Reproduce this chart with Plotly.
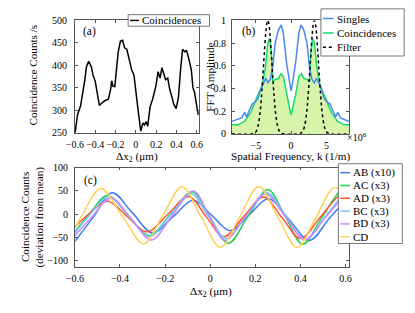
import plotly.graph_objects as go

W, H = 415, 313
FONT = "Liberation Serif"


def X(px):
    return px / W


def Y(py):
    return 1 - py / H


# ---------------- Panel (a): coincidences vs delta x2 ----------------
a_dx = [-0.597, -0.574, -0.543, -0.517, -0.502, -0.486, -0.464, -0.438, -0.422, -0.400,
        -0.384, -0.359, -0.327, -0.302, -0.270, -0.248, -0.238, -0.226, -0.207, -0.190,
        -0.174, -0.152, -0.130, -0.111, -0.089, -0.067, -0.041, -0.019, -0.003, 0.022,
        0.048, 0.070, 0.086, 0.102, 0.117, 0.140, 0.165, 0.197, 0.219, 0.238,
        0.257, 0.276, 0.292, 0.314, 0.333, 0.355, 0.371, 0.397, 0.419, 0.441,
        0.460, 0.483, 0.498, 0.521, 0.546, 0.562, 0.578, 0.603, 0.615]
a_counts = [251, 290, 311, 343, 368, 397, 409, 397, 379, 365,
            347, 311, 318, 322, 325, 347, 366, 354, 353, 386,
            429, 454, 456, 439, 436, 415, 390, 379, 343, 301,
            254, 272, 268, 275, 265, 308, 325, 354, 386, 372,
            395, 379, 368, 372, 347, 330, 315, 304, 329, 393,
            436, 430, 434, 415, 390, 350, 340, 304, 290]

# ---------------- Panel (b): FFT amplitude (k in units of 1e6 1/m) ----------------
b_k_singles = [-8.4, -7.6, -7.0, -6.6, -6.3, -5.9, -5.5, -5.1, -4.7, -4.3, -3.9, -3.6, -3.3,
               -2.95, -2.6, -2.25, -1.8, -1.4, -1.1, -0.65, -0.2, 0.0, 0.2, 0.65, 1.1, 1.4,
               1.8, 2.25, 2.6, 2.95, 3.3, 3.6, 3.9, 4.3, 4.7, 5.1, 5.5, 5.9, 6.3, 6.6, 7.0,
               7.6, 8.2]
b_amp_singles = [0.11, 0.125, 0.14, 0.19, 0.15, 0.21, 0.265, 0.28, 0.31, 0.39, 0.45, 0.49, 0.45,
                 0.48, 0.59, 0.80, 0.915, 0.96, 0.89, 0.63, 0.45, 0.38, 0.45, 0.63, 0.89, 0.96,
                 0.915, 0.80, 0.59, 0.48, 0.45, 0.49, 0.45, 0.39, 0.31, 0.28, 0.265, 0.21, 0.15,
                 0.19, 0.14, 0.125, 0.11]
b_k_coinc = [-8.4, -7.5, -6.6, -6.1, -5.7, -5.0, -4.55, -4.1, -3.65, -3.3, -3.05, -2.8, -2.6,
             -2.25, -1.8, -1.45, -1.1, -0.65, -0.2, 0.0, 0.2, 0.65, 1.1, 1.45, 1.8, 2.25, 2.6,
             2.8, 3.05, 3.3, 3.65, 4.1, 4.55, 5.0, 5.7, 6.1, 6.6, 7.5, 8.2]
b_amp_coinc = [0.08, 0.08, 0.11, 0.15, 0.19, 0.30, 0.36, 0.43, 0.58, 0.80, 0.84, 0.72, 0.46,
               0.48, 0.49, 0.53, 0.505, 0.35, 0.22, 0.165, 0.22, 0.35, 0.505, 0.53, 0.49, 0.48,
               0.46, 0.72, 0.84, 0.80, 0.58, 0.43, 0.36, 0.30, 0.19, 0.15, 0.11, 0.08, 0.08]
b_k_filter = [-8.4, -5.6, -5.0, -4.7, -4.4, -4.2, -4.0, -3.8, -3.6, -3.45, -3.3, -3.15, -3.0,
              -2.8, -2.6, -2.4, -2.2, -1.9, -1.6, -1.3, 1.3, 1.6, 1.9, 2.2, 2.4, 2.6, 2.8,
              3.0, 3.15, 3.3, 3.45, 3.6, 3.8, 4.0, 4.2, 4.4, 4.7, 5.0, 5.6, 8.2]
b_amp_filter = [0, 0, 0.018, 0.066, 0.186, 0.325, 0.506, 0.707, 0.883, 0.969, 1.0, 0.969, 0.883,
                0.707, 0.506, 0.325, 0.186, 0.066, 0.018, 0.004, 0.004, 0.018, 0.066, 0.186,
                0.325, 0.506, 0.707, 0.883, 0.969, 1.0, 0.969, 0.883, 0.707, 0.506, 0.325,
                0.186, 0.066, 0.018, 0, 0]

# ---------------- Panel (c): coincidence deviation from mean ----------------
c_names = ["AB (x10)", "AC (x3)", "AD (x3)", "BC (x3)", "BD (x3)", "CD"]
c_x_AB = [-0.6, -0.518, -0.435, -0.345, -0.255, -0.165, -0.075, 0.006, 0.088, 0.173, 0.258,
          0.349, 0.44, 0.527, 0.615]
c_y_AB = [-58, -6, 46, 3, -40, -5, 30, -2, -35, -1, 33, -11, -56, -9, 38]
c_x_AC = [-0.6, -0.535, -0.455, -0.362, -0.27, -0.175, -0.08, 0.0, 0.08, 0.168, 0.255, 0.333,
          0.41, 0.497, 0.585, 0.615]
c_y_AC = [-38, 1, 40, -3, -46, 1, 48, -7, -62, -4, 53, -5, -64, -5, 53, 50]
c_x_AD = [-0.6, -0.54, -0.455, -0.367, -0.28, -0.188, -0.095, -0.018, 0.06, 0.148, 0.236,
          0.318, 0.40, 0.488, 0.575, 0.615]
c_y_AD = [-27, 0, 28, -5, -38, 0, 38, -5, -48, -5, 37, -7, -52, -6, 40, 37]
c_x_BC = [-0.6, -0.535, -0.45, -0.36, -0.27, -0.178, -0.085, -0.008, 0.07, 0.16, 0.25, 0.335,
          0.42, 0.508, 0.595, 0.615]
c_y_BC = [-40, -2, 38, -5, -48, -2, 44, -4, -52, -3, 46, -4, -55, -6, 42, 41]
c_x_BD = [-0.6, -0.525, -0.44, -0.35, -0.26, -0.168, -0.075, -0.005, 0.065, 0.155, 0.245,
          0.333, 0.42, 0.51, 0.6, 0.615]
c_y_BD = [-46, -6, 35, -10, -55, -2, 50, -3, -56, -6, 44, -5, -54, -7, 40, 40]
c_x_CD = [-0.6, -0.57, -0.485, -0.39, -0.295, -0.21, -0.125, -0.04, 0.045, 0.13, 0.215, 0.30,
          0.385, 0.468, 0.55, 0.615]
c_y_CD = [-30, -4, 55, -4, -63, -2, 59, -6, -71, -6, 59, -6, -71, -7, 57, 40]
c_xs = [c_x_AB, c_x_AC, c_x_AD, c_x_BC, c_x_BD, c_x_CD]
c_ys = [c_y_AB, c_y_AC, c_y_AD, c_y_BC, c_y_BD, c_y_CD]
c_colors = ["#3d7cf2", "#1fcf50", "#ff5530", "#74c7ff", "#c98aff", "#ffd257"]

x_ticks = [-0.6, -0.4, -0.2, 0, 0.2, 0.4, 0.6]

COL_S = "#4b87f2"
COL_C = "#1ad96b"
FILL_C = "#d6f5aa"

fig = go.Figure()

# (a)
fig.add_trace(go.Scatter(x=a_dx, y=a_counts, mode="lines", name="Coincidences",
                         line=dict(color="black", width=1.5), xaxis="x", yaxis="y",
                         showlegend=False))
# (b)
fig.add_trace(go.Scatter(x=b_k_coinc, y=b_amp_coinc, mode="lines", name="Coincidences",
                         line=dict(color=COL_C, width=1.5), fill="tozeroy", fillcolor=FILL_C,
                         xaxis="x2", yaxis="y2", showlegend=False))
fig.add_trace(go.Scatter(x=b_k_singles, y=b_amp_singles, mode="lines", name="Singles",
                         line=dict(color=COL_S, width=1.5), xaxis="x2", yaxis="y2",
                         showlegend=False))
fig.add_trace(go.Scatter(x=b_k_filter, y=b_amp_filter, mode="lines", name="Filter",
                         line=dict(color="black", width=1.5, dash="dot", shape="spline"),
                         xaxis="x2", yaxis="y2", showlegend=False))
# (c)
for nm, xs, ys, col in zip(c_names, c_xs, c_ys, c_colors):
    fig.add_trace(go.Scatter(x=xs, y=ys, mode="lines", name=nm,
                             line=dict(color=col, width=1.5, shape="spline", smoothing=1.0),
                             xaxis="x3", yaxis="y3", showlegend=False))

AXC = "#555555"
TICKF = dict(family=FONT, size=10, color="black")


def axis(domain, rng, tickvals, anchor, standoff=3):
    return dict(domain=domain, range=rng, tickvals=tickvals, ticks="inside", ticklen=3,
                tickwidth=0.8, tickcolor=AXC, showline=True, linecolor=AXC, linewidth=0.8,
                mirror="ticks", showgrid=False, zeroline=False, tickfont=TICKF, anchor=anchor,
                ticklabelstandoff=standoff, fixedrange=True)


fig.update_layout(
    width=W, height=H, margin=dict(l=0, r=0, t=0, b=0),
    paper_bgcolor="white", plot_bgcolor="white",
    font=dict(family=FONT, color="black"),
    showlegend=False,
    xaxis=axis([X(68), X(196)], [-0.6, 0.62], x_ticks, "y", standoff=2),
    yaxis=axis([Y(132), Y(15)], [250, 500], [250, 300, 350, 400, 450, 500], "x", standoff=5),
    xaxis2=axis([X(230), X(351)], [-8.4, 8.2], [-5, 0, 5], "y2", standoff=2),
    yaxis2=axis([Y(133), Y(15)], [0, 1], [0, 0.2, 0.4, 0.6, 0.8, 1], "x2", standoff=3),
    xaxis3=axis([X(68), X(351)], [-0.6, 0.615], x_ticks, "y3", standoff=2),
    yaxis3=axis([Y(271), Y(168)], [-112, 100], [-100, -50, 0, 50, 100], "x3", standoff=4),
)

ann = []
shapes = []


def text(px, py, s, size=11.2, angle=0, xanchor="center"):
    ann.append(dict(x=X(px), y=Y(py), xref="paper", yref="paper", text=s, showarrow=False,
                    textangle=angle, xanchor=xanchor, yanchor="middle",
                    font=dict(family=FONT, size=size, color="black")))


# axis titles
text(25, 72, "Coincidence Counts /s", angle=-90)
text(132, 157, "Δx<sub>2</sub> (μm)")
text(208, 74, "FFT Amplitude", angle=-90)
text(291, 157, "Spatial Frequency, k (1/m)")
text(359, 136, "×10<sup>6</sup>", size=10)
text(16, 219, "Coincidence Counts", angle=-90)
text(32, 219, "(deviation from mean)", angle=-90)
text(209, 297, "Δx<sub>2</sub> (μm)")
# panel labels
text(83, 26, "(a)", size=11.5)
text(248, 26, "(b)", size=11.5)
text(84, 181, "(c)", size=11.5)


def legend_box(x0, y0, x1, y1):
    shapes.append(dict(type="rect", xref="paper", yref="paper", x0=X(x0), x1=X(x1),
                       y0=Y(y1), y1=Y(y0), fillcolor="white",
                       line=dict(color=AXC, width=0.8), layer="above"))


def legend_item(lx0, lx1, py, color, label, dash="solid"):
    shapes.append(dict(type="line", xref="paper", yref="paper", x0=X(lx0), x1=X(lx1),
                       y0=Y(py), y1=Y(py), line=dict(color=color, width=1.5, dash=dash),
                       layer="above"))
    text(lx1 + 1.5, py, label, size=11, xanchor="left")


# legend (a)
legend_box(123, 9, 207, 21)
legend_item(125, 134, 15, "black", "Coincidences")
# legend (b)
legend_box(322, 3, 408, 52)
legend_item(324, 335, 13, COL_S, "Singles")
legend_item(324, 335, 28, COL_C, "Coincidences")
legend_item(324, 335, 43, "black", "Filter", dash="dot")
# legend (c)
legend_box(340, 164, 406, 247)
for i, (nm, col) in enumerate(zip(c_names, c_colors)):
    legend_item(342, 352, 173.3 + i * 13.33, col, nm)

fig.update_layout(annotations=ann, shapes=shapes)
fig.write_html("out.html", config={"displayModeBar": False},
               post_script="document.body.style.margin='0';")
